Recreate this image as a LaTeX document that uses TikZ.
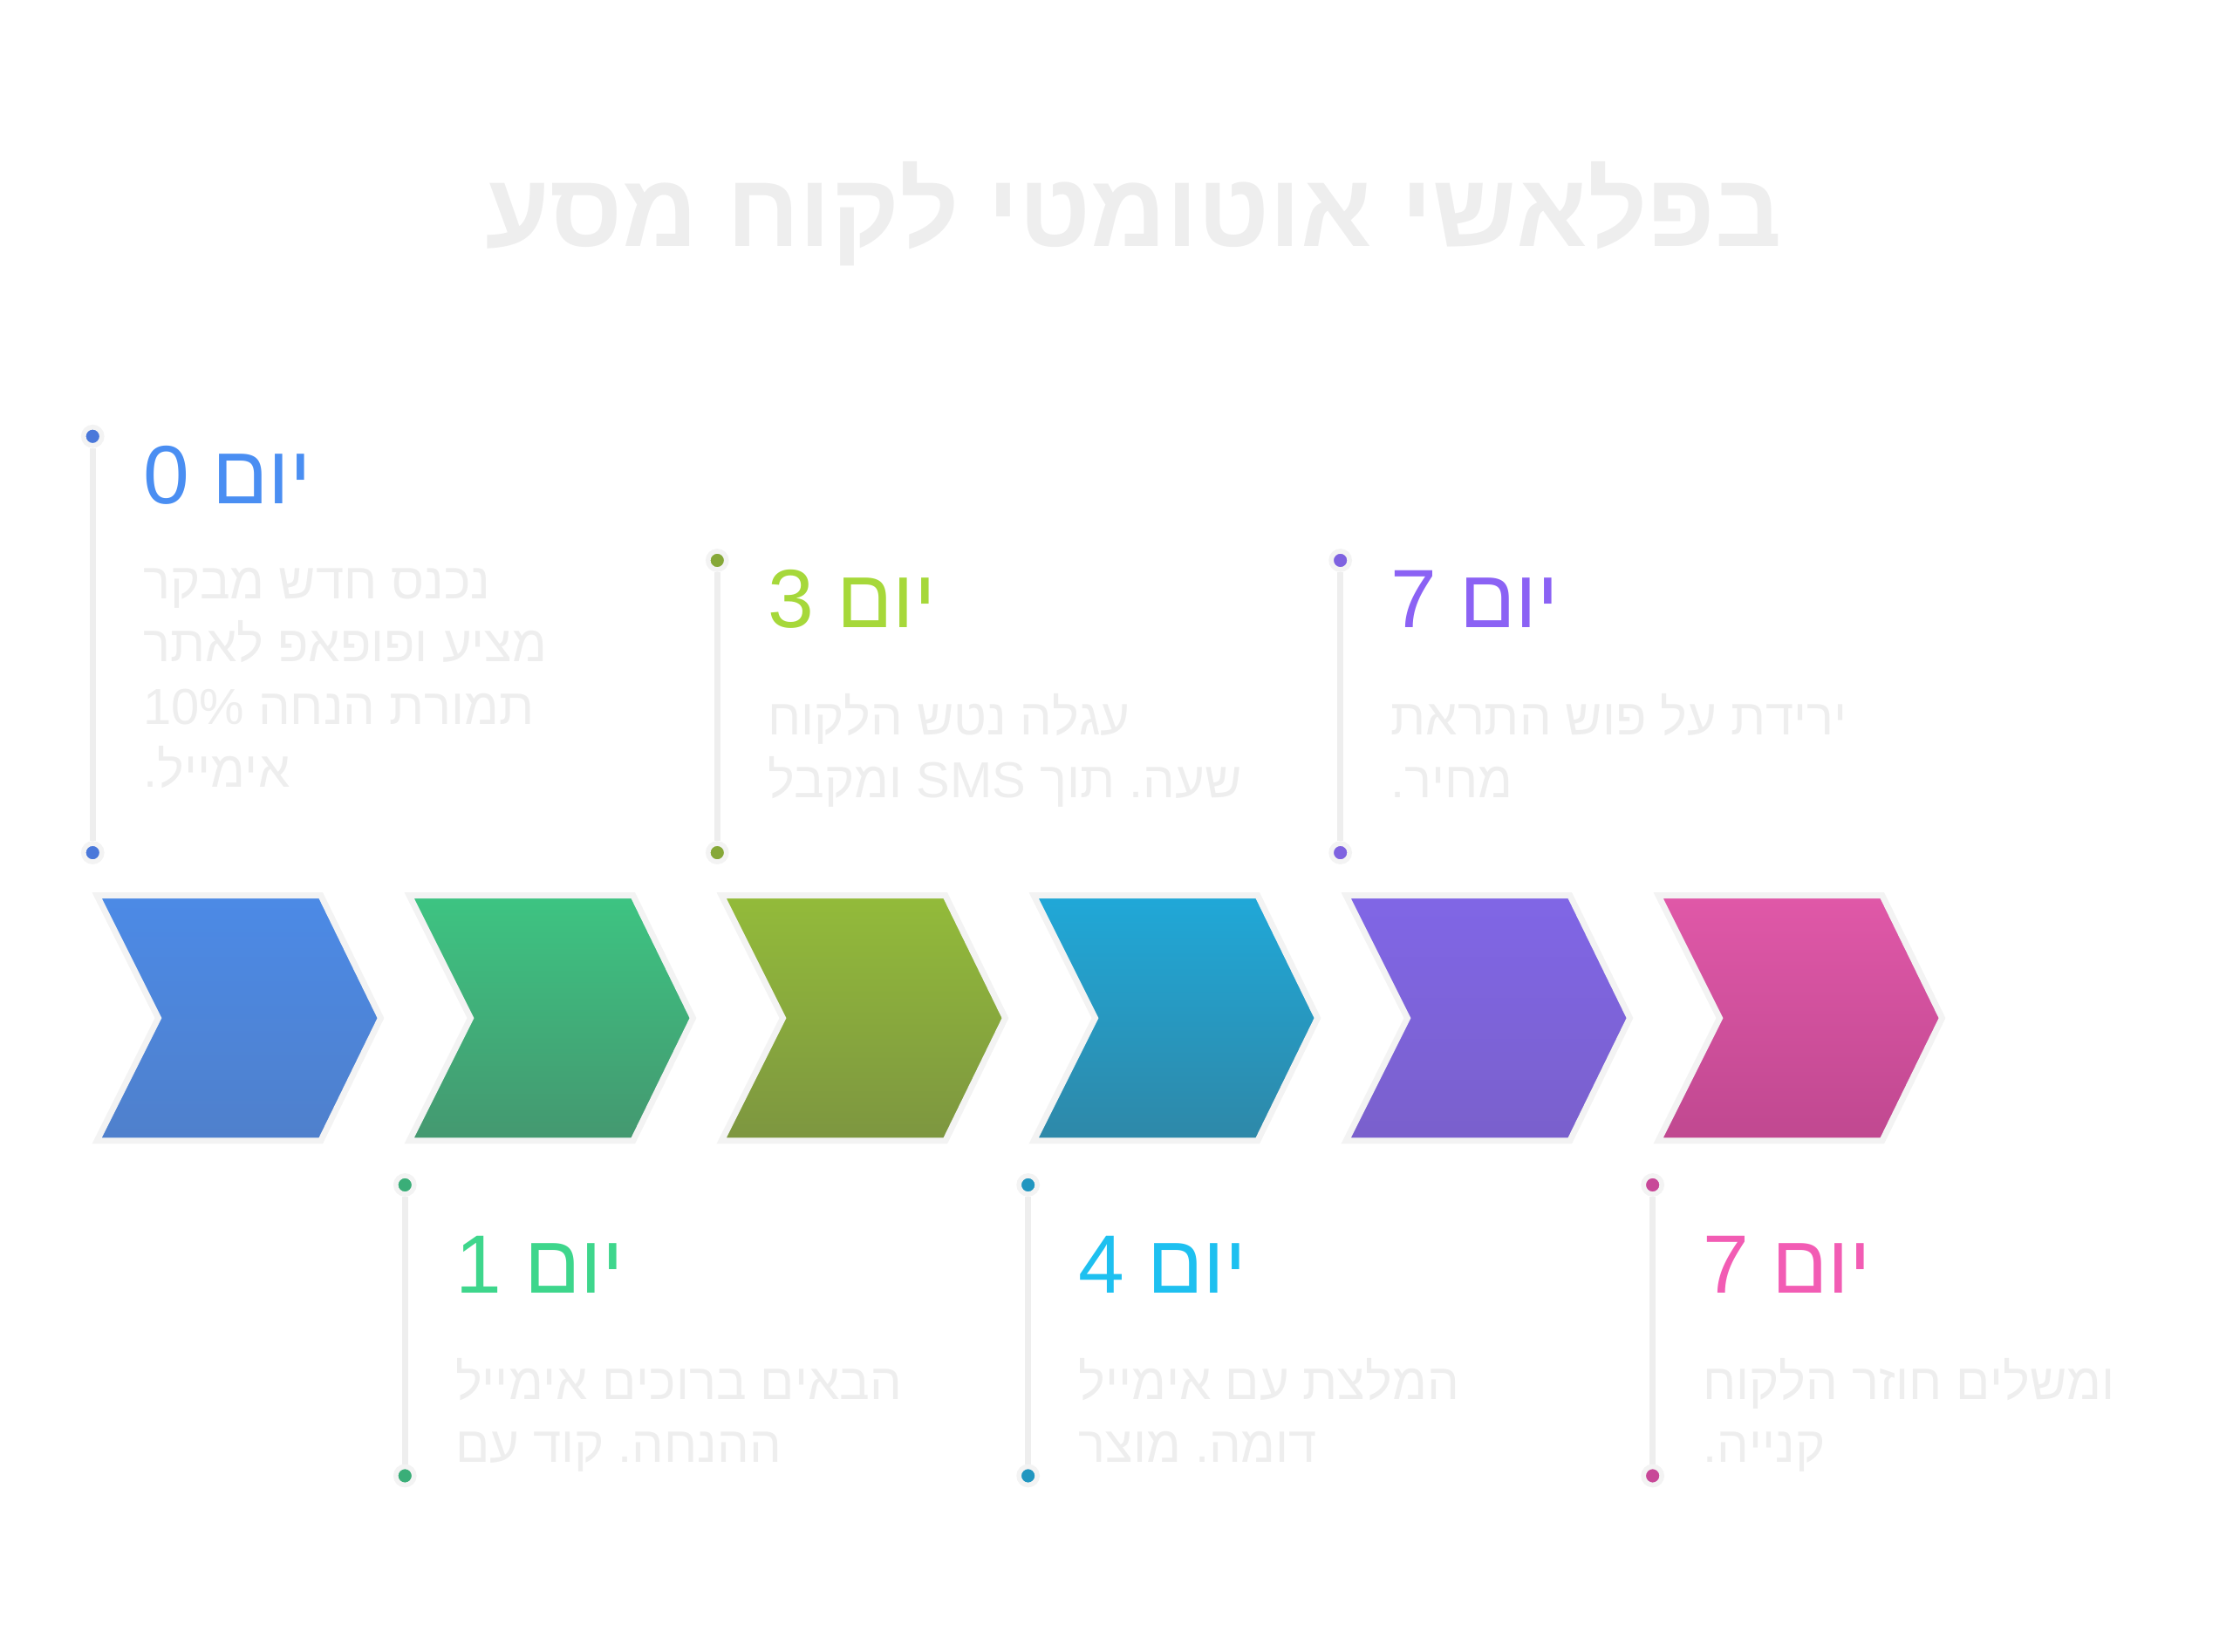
\documentclass[tikz,border=0pt]{standalone}
\usepackage{fontspec}
\setmainfont{Liberation Sans}
\newfontfamily\hebfont[Script=Hebrew]{Liberation Sans}
\TeXXeTstate=1
\usetikzlibrary{positioning}

\definecolor{softgray}{HTML}{EEEEEE}
\definecolor{rimgray}{HTML}{F3F3F3}

\begin{document}
\begin{tikzpicture}[x=0.01635cm,y=-0.01635cm]
\tikzset{
  chevron/.style={draw=rimgray, line width=2pt, line join=miter},
  stem/.style={draw=softgray, line width=2pt},
  dot/.style={circle, inner sep=0pt, minimum size=6pt, draw=rimgray, line width=1.6pt},
  daylabel/.style={anchor=west, inner sep=0pt, font=\hebfont\fontsize{27}{30}\selectfont},
  daytext/.style={anchor=north west, inner sep=0pt, align=left, text=softgray,
                  font=\fontsize{16.5}{20.5}\selectfont},
}
\useasboundingbox (0,0) rectangle (1566,1158);

% title
\node[text=softgray, font=\bfseries\fontsize{34}{40}\selectfont] (title) at (795,150) {מסע לקוח אוטומטי בפלאשי};

% chevrons
\foreach \i/\ctop/\cbot in {0/4C8AE6/4F80CC, 1/3DC482/449870, 2/93BB3A/7D9640,
                            3/20A8D8/2E88A8, 4/8066E6/7A60CC, 5/E058A8/C04890} {
  \definecolor{ctop}{HTML}{\ctop}
  \definecolor{cbot}{HTML}{\cbot}
  \pgfmathsetmacro{\xa}{68+219*\i}
  \path[chevron, top color=ctop, bottom color=cbot]
    (\xa,628) -- ++(157,0) -- ++(42,86) -- ++(-42,86) -- ++(-157,0) -- ++(43,-86) -- cycle;
}

% markers above
\foreach \n/\x/\ya/\col in {a/65/306/4A78DA, c/503/393/86A838, e/940/393/7E62E0} {
  \definecolor{dotcol}{HTML}{\col}
  \node[dot, fill=dotcol] (\n top) at (\x,\ya) {};
  \node[dot, fill=dotcol] (\n bot) at (\x,598) {};
  \draw[stem] (\n top) -- (\n bot);
}
% markers below
\foreach \n/\x/\col in {b/284/3AAE78, d/721/2196C0, f/1159/C84898} {
  \definecolor{dotcol}{HTML}{\col}
  \node[dot, fill=dotcol] (\n top) at (\x,831) {};
  \node[dot, fill=dotcol] (\n bot) at (\x,1035) {};
  \draw[stem] (\n top) -- (\n bot);
}

% day labels
\definecolor{d0}{HTML}{4A8EF2}
\definecolor{d1}{HTML}{3ED68C}
\definecolor{d3}{HTML}{A6D83A}
\definecolor{d4}{HTML}{1EC0F0}
\definecolor{d7a}{HTML}{8B62F4}
\definecolor{d7b}{HTML}{F25CB4}
\node[daylabel, text=d0]  (day0) at (100,333) {\beginR יום 0\endR};
\node[daylabel, text=d3]  (day3) at (538,420) {\beginR יום 3\endR};
\node[daylabel, text=d7a] (day7a) at (975,420) {\beginR יום 7\endR};
\node[daylabel, text=d1]  (day1) at (319,887) {\beginR יום 1\endR};
\node[daylabel, text=d4]  (day4) at (756,887) {\beginR יום 4\endR};
\node[daylabel, text=d7b] (day7b) at (1194,887) {\beginR יום 7\endR};

% descriptions
\node[daytext] (txt0) at (100,398) {מבקר חדש נכנס\\לאתר ופופאפ מציע\\10\% הנחה תמורת\\אימייל.};
\node[daytext] (txt3) at (538,486) {הלקוח נטש עגלה\\ומקבל SMS תוך שעה.};
\node[daytext] (txt7a) at (975,486) {התראת פוש על ירידת\\מחיר.};
\node[daytext] (txt1) at (319,952) {אימייל ברוכים הבאים\\עם קוד ההנחה.};
\node[daytext] (txt4) at (756,952) {אימייל עם המלצת\\מוצר דומה.};
\node[daytext] (txt7b) at (1194,952) {הלקוח חוזר ומשלים\\קנייה.};
\end{tikzpicture}
\end{document}
